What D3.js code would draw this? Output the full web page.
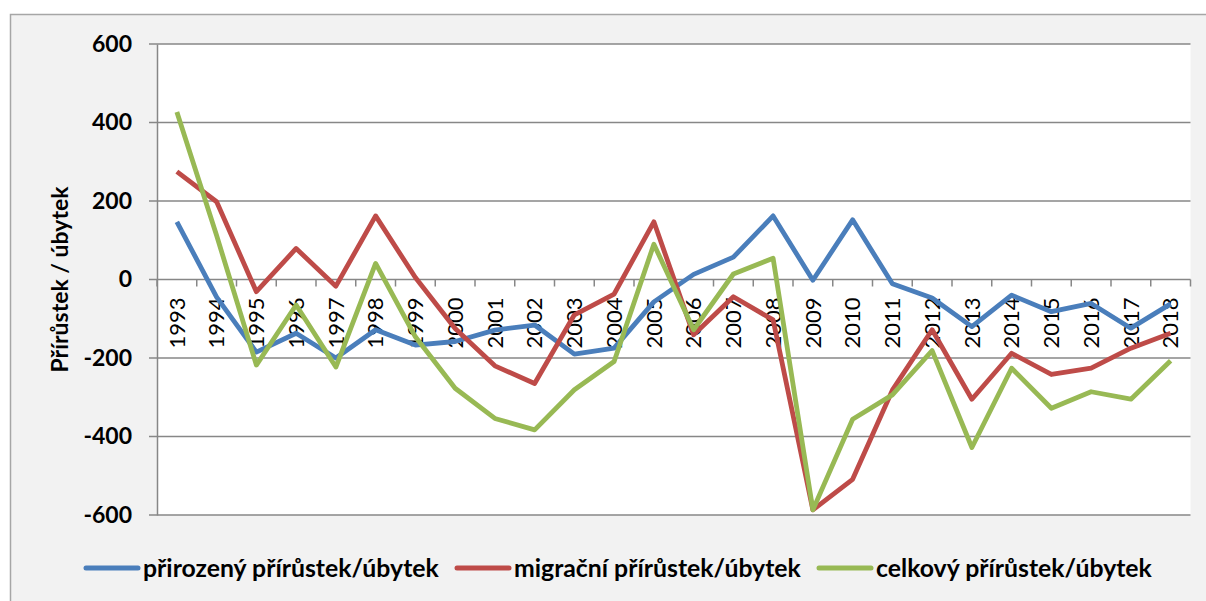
<!DOCTYPE html>
<html>
<head>
<meta charset="utf-8">
<script src="https://cdn.jsdelivr.net/npm/d3@7"></script>
<style>
  body { margin: 0; background: #ffffff; }
  svg { display: block; font-family: Lato, "Open Sans", sans-serif; }
</style>
</head>
<body>
<svg class="chart" width="1206" height="601"></svg>
<script>
// years on the x axis
var years = ["1993", "1994", "1995", "1996", "1997", "1998", "1999", "2000", "2001", "2002",
             "2003", "2004", "2005", "2006", "2007", "2008", "2009", "2010", "2011", "2012",
             "2013", "2014", "2015", "2016", "2017", "2018"];

// natural increase / decrease
var natural = [147, -45, -185, -137, -200, -128, -167, -158, -129, -116,
               -190, -175, -57, 13, 57, 162, -2, 152, -11, -47,
               -120, -40, -82, -61, -124, -62];

// migration increase / decrease
var migration = [275, 198, -31, 79, -17, 162, 5, -125, -220, -265,
                 -90, -37, 147, -141, -44, -103, -587, -509, -282, -128,
                 -305, -188, -242, -226, -175, -137];

// total increase / decrease
var total = [427, 112, -218, -65, -223, 41, -146, -277, -354, -383,
             -281, -209, 90, -128, 14, 54, -587, -356, -294, -181,
             -428, -226, -328, -286, -305, -207];

var yTicks = [600, 400, 200, 0, -200, -400, -600];

var seriesNames = ["přirozený přírůstek/úbytek", "migrační přírůstek/úbytek", "celkový přírůstek/úbytek"];
var seriesColors = ["#4a7ebb", "#be4b48", "#98b954"];
var seriesValues = [natural, migration, total];

// plot area
var plotLeft = 157, plotRight = 1190.5, plotTop = 44, plotBottom = 515;
var gridColor = "#878787";

var svg = d3.select(".chart");

// chart background and border
svg.append("rect")
    .attr("x", 10.5).attr("y", 14.5)
    .attr("width", 1220).attr("height", 620)
    .attr("fill", "#f2f2f2")
    .attr("stroke", "#a6a6a6")
    .attr("stroke-width", 1.5);

svg.append("rect")
    .attr("x", plotLeft).attr("y", plotTop)
    .attr("width", plotRight - plotLeft).attr("height", plotBottom - plotTop)
    .attr("fill", "#ffffff");

var x = d3.scaleBand().domain(years).range([plotLeft, plotRight]).padding(0);
var y = d3.scaleLinear().domain([-600, 600]).range([plotBottom, plotTop]);

// gridlines
svg.append("g")
    .selectAll("line")
    .data(yTicks)
    .enter().append("line")
    .attr("x1", plotLeft - 8).attr("x2", plotRight)
    .attr("y1", function (d) { return y(d); })
    .attr("y2", function (d) { return y(d); })
    .attr("stroke", gridColor)
    .attr("stroke-width", 1.5);

// y axis (plain hyphen for negatives, like the original)
var yAxis = d3.axisLeft(y).tickValues(yTicks).tickSize(0).tickPadding(25)
    .tickFormat(function (d) { return String(d); });
var yAxisGroup = svg.append("g")
    .attr("transform", "translate(" + plotLeft + ",0)")
    .call(yAxis);
yAxisGroup.select(".domain").attr("stroke", gridColor).attr("stroke-width", 1.5);
yAxisGroup.selectAll("text")
    .attr("font-family", "Lato, sans-serif")
    .attr("font-size", 23)
    .attr("font-weight", "bold")
    .attr("fill", "#000");

// x axis at zero
var y0 = y(0);
var xAxis = d3.axisBottom(x).tickSize(0).tickPadding(0);
var xAxisGroup = svg.append("g")
    .attr("transform", "translate(0," + y0 + ")")
    .call(xAxis);
xAxisGroup.select(".domain").remove();
xAxisGroup.selectAll("text")
    .attr("font-family", "Lato, sans-serif")
    .attr("font-size", 22)
    .attr("fill", "#000")
    .attr("text-anchor", "end")
    .attr("dy", "0.35em")
    .attr("y", 0)
    .attr("transform", "translate(0,18) rotate(-90)");

// category tick marks at band boundaries
var bounds = years.map(function (d) { return x(d); }).concat([plotRight]);
svg.append("g")
    .selectAll("line")
    .data(bounds)
    .enter().append("line")
    .attr("x1", function (d) { return d; })
    .attr("x2", function (d) { return d; })
    .attr("y1", y0).attr("y2", y0 + 7)
    .attr("stroke", gridColor)
    .attr("stroke-width", 1.5);

// y axis title
svg.append("text")
    .attr("transform", "translate(68," + ((plotTop + plotBottom) / 2) + ") rotate(-90)")
    .attr("text-anchor", "middle")
    .attr("font-size", 23)
    .attr("font-weight", "bold")
    .text("Přírůstek / úbytek");

// lines
var line = d3.line()
    .x(function (d, i) { return x(years[i]) + x.bandwidth() / 2; })
    .y(function (d) { return y(d); });

seriesValues.forEach(function (vals, k) {
    svg.append("path")
        .datum(vals)
        .attr("fill", "none")
        .attr("stroke", seriesColors[k])
        .attr("stroke-width", 4.8)
        .attr("stroke-linejoin", "round")
        .attr("d", line);
});

// legend
var legendX = [86, 457, 819];
var legend = svg.append("g").selectAll("g")
    .data(seriesNames)
    .enter().append("g")
    .attr("transform", function (d, i) { return "translate(" + legendX[i] + ",568)"; });

legend.append("line")
    .attr("x1", 0).attr("x2", 52)
    .attr("stroke", function (d, i) { return seriesColors[i]; })
    .attr("stroke-width", 5)
    .attr("stroke-linecap", "round");

legend.append("text")
    .attr("x", 57).attr("y", 8.5)
    .attr("font-size", 24.8)
    .attr("font-weight", "bold")
    .text(function (d) { return d; });
</script>
</body>
</html>
